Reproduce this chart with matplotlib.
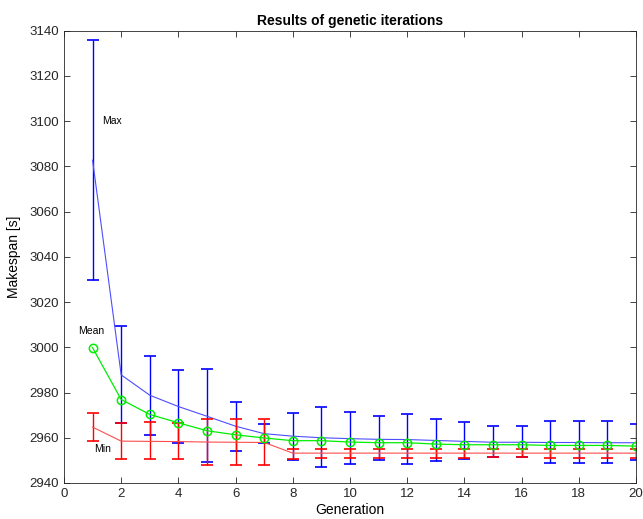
import numpy as np
import matplotlib
matplotlib.use("Agg")
import matplotlib.pyplot as plt

plt.rcParams['font.family'] = ['Liberation Sans', 'DejaVu Sans']

# =========================
# DATA
# =========================

generations = list(range(1, 21))

max_mean = [3082.7, 2987.8, 2978.8, 2973.8, 2969.5, 2965.1, 2961.8, 2960.7, 2960.0, 2959.6,
            2959.3, 2959.2, 2958.8, 2958.4, 2958.0, 2958.0, 2957.9, 2957.9, 2957.8, 2957.8]
max_low = [3029.6, 2966.6, 2961.3, 2957.7, 2949.3, 2954.1, 2957.5, 2950.3, 2947.1, 2948.3,
           2950.0, 2948.5, 2949.9, 2950.6, 2951.5, 2951.5, 2948.8, 2948.8, 2948.8, 2950.0]
max_high = [3135.9, 3009.6, 2996.0, 2990.1, 2990.4, 2975.7, 2965.9, 2971.0, 2973.4, 2971.3,
            2969.5, 2970.4, 2968.2, 2966.9, 2965.3, 2965.3, 2967.3, 2967.3, 2967.3, 2966.2]

mean_vals = [2999.8, 2976.9, 2970.3, 2966.6, 2963.1, 2961.3, 2959.9, 2958.7, 2958.7, 2958.1,
             2957.8, 2957.8, 2957.2, 2956.9, 2956.9, 2956.9, 2956.6, 2956.6, 2956.6, 2956.3]

min_mean = [2964.7, 2958.5, 2958.4, 2958.3, 2958.1, 2958.0, 2957.9, 2953.2, 2953.2, 2953.2,
            2953.2, 2953.2, 2953.2, 2953.2, 2953.2, 2953.2, 2953.2, 2953.2, 2953.2, 2953.2]
min_low = [2958.6, 2950.5, 2950.5, 2950.5, 2948.1, 2948.1, 2948.1, 2950.5, 2951.0, 2951.2,
           2951.0, 2951.0, 2951.0, 2951.0, 2951.5, 2951.5, 2951.0, 2951.0, 2951.0, 2951.0]
min_high = [2971.0, 2966.6, 2966.9, 2966.6, 2968.2, 2968.2, 2968.2, 2955.2, 2955.2, 2955.2,
            2955.2, 2955.2, 2955.2, 2955.2, 2955.2, 2955.2, 2955.2, 2955.2, 2955.2, 2955.2]

x = np.array(generations)

# =========================
# PLOT
# =========================

fig = plt.figure(figsize=(6.43, 5.19), dpi=100)
ax = fig.add_axes([0.0995, 0.0694, 0.8895, 0.8716])

# Max series (blue)
max_m = np.array(max_mean)
max_err = [max_m - np.array(max_low), np.array(max_high) - max_m]
ax.errorbar(x, max_m, yerr=max_err, color="#0000ff", fmt="none",
            elinewidth=1.0, capsize=4, capthick=1.2)
ax.plot(x, max_m, color="#4d4dff", lw=0.8)

# Min series (red)
min_m = np.array(min_mean)
min_err = [min_m - np.array(min_low), np.array(min_high) - min_m]
ax.errorbar(x, min_m, yerr=min_err, color="#ff0000", fmt="none",
            elinewidth=1.0, capsize=4, capthick=1.2)
ax.plot(x, min_m, color="#ff4d4d", lw=0.8)

# Mean series (green)
ax.plot(x, mean_vals, color="#00ee00", lw=0.9, marker="o", markersize=6,
        markerfacecolor="none", markeredgewidth=1.1)

ax.text(1.35, 3100, "Max", fontsize=7.5, va="center")
ax.text(0.5, 3007, "Mean", fontsize=7.5, va="center")
ax.text(1.05, 2955, "Min", fontsize=7.5, va="center")

ax.set_xlim(0, 20)
ax.set_ylim(2940, 3140)
ax.set_xticks(range(0, 21, 2))
ax.set_yticks(range(2940, 3141, 20))
ax.tick_params(direction="in", top=True, right=True, labelsize=9.5,
               length=4, width=0.6, colors="#262626")
for s in ax.spines.values():
    s.set_linewidth(0.6)
    s.set_color("#262626")

ax.set_title("Results of genetic iterations", fontsize=10, fontweight="bold", pad=4)
ax.set_xlabel("Generation", fontsize=10, labelpad=2)
ax.set_ylabel("Makespan [s]", fontsize=10, labelpad=6)

fig.savefig("out.png", dpi=100)
